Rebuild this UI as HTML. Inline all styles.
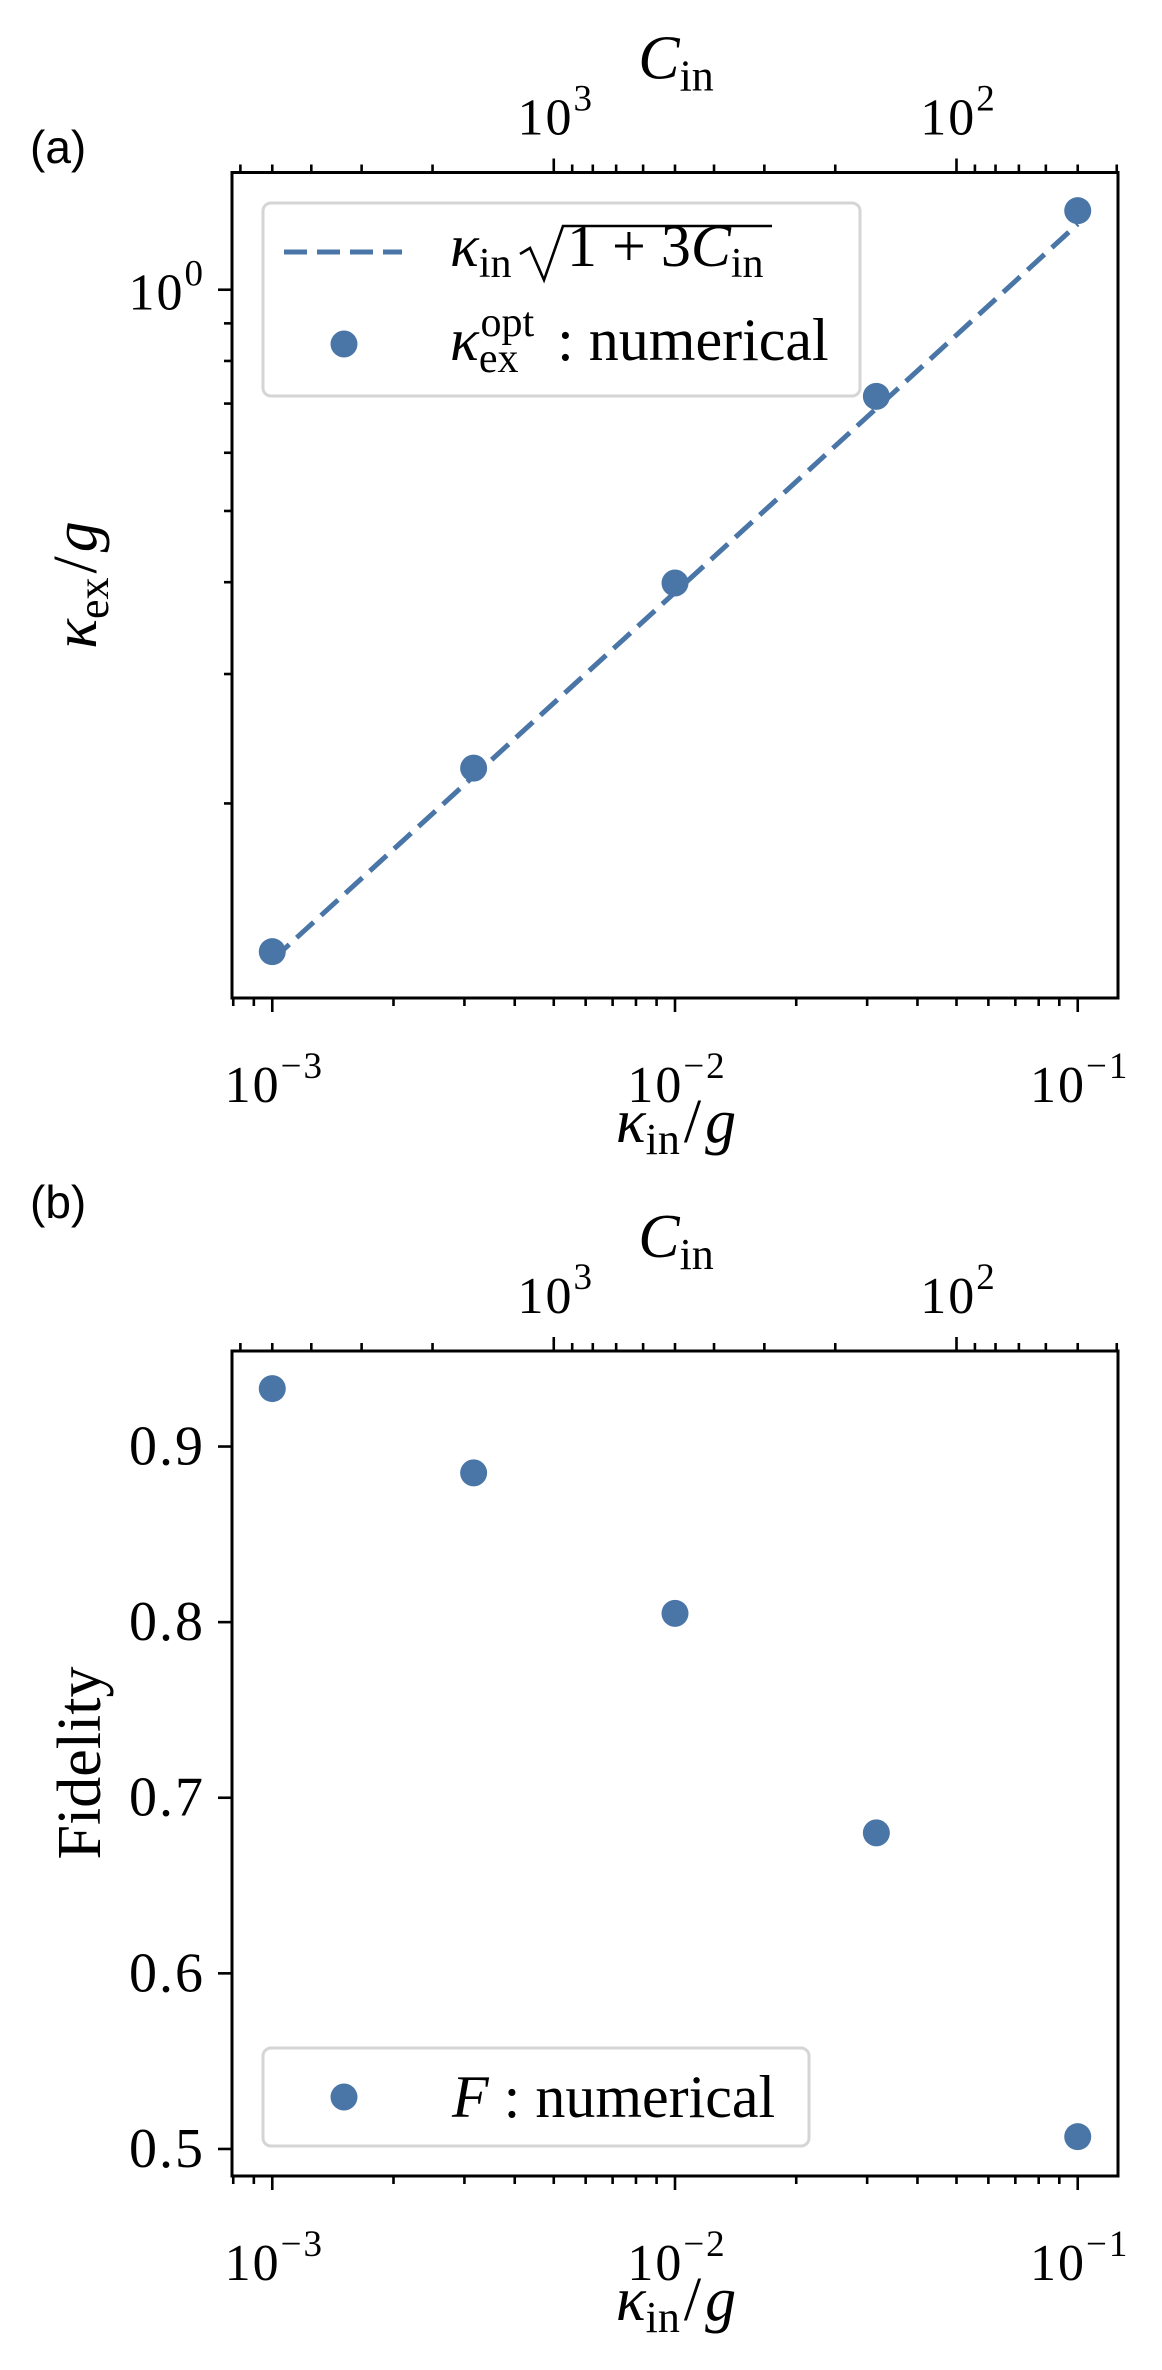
<!DOCTYPE html>
<html><head><meta charset="utf-8">
<style>
html,body{margin:0;padding:0;background:#fff;}
svg{display:block;}
text{font-family:"Liberation Serif",serif;fill:#000;}
.sans{font-family:"Liberation Sans",sans-serif;}
</style></head>
<body>
<svg id="fig" width="1162" height="2370" viewBox="0 0 1162 2370" xmlns="http://www.w3.org/2000/svg"></svg>
<script>
// ---- data ----
const kappaIn = [0.001, 0.0031623, 0.01, 0.031623, 0.1];
const kappaExNumerical = [0.1257, 0.2234, 0.399, 0.716, 1.281];
const kappaExTheory = [0.12248, 0.21782, 0.38743, 0.68945, 1.22882];
const fidelity = [0.933, 0.885, 0.805, 0.680, 0.507];
const fidelityTicks = [0.5, 0.6, 0.7, 0.8, 0.9];
const fidelityTickLabels = ["0.5", "0.6", "0.7", "0.8", "0.9"];
const xMajorExp = [-3, -2, -1];
const topMajorC = [1000, 100];
const topMajorLabels = ["3", "2"];
const cCoef = 5; // C_in = 5 / kappa_in

const NS = "http://www.w3.org/2000/svg";
const svg = document.getElementById("fig");
const COLOR = "#4a75a7";
function el(tag, attrs, parent) {
  const e = document.createElementNS(NS, tag);
  for (const k in attrs) e.setAttribute(k, attrs[k]);
  (parent || svg).appendChild(e);
  return e;
}
const L = 232, R = 1118;
const XMIN = -3.1, XMAX = -0.9;
function xs(v) { return L + (Math.log10(v) - XMIN) / (XMAX - XMIN) * (R - L); }
const TICKFS = 52, SUPFS = 37, TITLEFS = 62, SUBFS = 44;

function xAxes(g, T, B) {
  for (let e = -4; e <= -1; e++) {
    for (let m = 1; m <= 9; m++) {
      const v = m * Math.pow(10, e);
      const lv = Math.log10(v);
      if (lv < XMIN - 1e-9 || lv > XMAX + 1e-9) continue;
      const x = xs(v);
      const len = m === 1 ? 14 : 8;
      const t = el("line", {x1: x, x2: x, y1: B, y2: B + len, stroke: "#000", "stroke-width": 2.6}, g);
      
      
    }
  }
  xMajorExp.forEach(e => {
    const x = xs(Math.pow(10, e));
    const t = el("text", {x: x + 2, y: B + 104, "font-size": TICKFS, "text-anchor": "middle", "letter-spacing": 2}, g);
    
    
    t.innerHTML = '10<tspan dy="-24" font-size="' + SUPFS + '">\u2212' + (-e) + '</tspan>';
  });
  for (let e = 1; e <= 4; e++) {
    for (let m = 1; m <= 9; m++) {
      const c = m * Math.pow(10, e);
      const k = cCoef / c;
      const lv = Math.log10(k);
      if (lv < XMIN - 1e-9 || lv > XMAX + 1e-9) continue;
      const x = xs(k);
      const len = m === 1 ? 14 : 8;
      const t = el("line", {x1: x, x2: x, y1: T, y2: T - len, stroke: "#000", "stroke-width": 2.6}, g);
      
      
    }
  }
  topMajorC.forEach((c, i) => {
    const x = xs(cCoef / c);
    const t = el("text", {x: x + 2, y: T - 38, "font-size": TICKFS, "text-anchor": "middle", "letter-spacing": 2}, g);
    
    
    t.innerHTML = '10<tspan dy="-24" font-size="' + SUPFS + '">' + topMajorLabels[i] + '</tspan>';
  });
  const tl = el("text", {x: 676, y: T - 94, "font-size": TITLEFS, "text-anchor": "middle"}, g);
  
  
  tl.innerHTML = '<tspan font-style="italic">C</tspan><tspan dy="12" font-size="' + SUBFS + '">in</tspan>';
  const bl = el("text", {x: 676, y: B + 144, "font-size": TITLEFS, "text-anchor": "middle"}, g);
  
  
  bl.innerHTML = '<tspan font-style="italic">κ</tspan><tspan dy="12" font-size="' + SUBFS + '">in</tspan><tspan dy="-12" dx="4">/</tspan><tspan dx="4" font-style="italic">g</tspan>';
}
function frame(g, T, B) {
  const r = el("rect", {x: L, y: T, width: R - L, height: B - T, fill: "none", stroke: "#000", "stroke-width": 3}, g);
  
  
}

// ===== Panel (a) =====
const gA = el("g", {});


const TA = 172.5, BA = 998, YAMIN = -0.9637, YAMAX = 0.1595;
function ysA(v) { return BA - (Math.log10(v) - YAMIN) / (YAMAX - YAMIN) * (BA - TA); }
const labA = el("text", {x: 30, y: 163, "font-size": 46, class: "sans"}, gA);


labA.textContent = "(a)";
for (let e = -1; e <= 0; e++) {
  for (let m = 1; m <= 9; m++) {
    const v = m * Math.pow(10, e);
    const lv = Math.log10(v);
    if (lv < YAMIN || lv > YAMAX) continue;
    const y = ysA(v);
    const len = m === 1 ? 14 : 8;
    const t = el("line", {x1: L, x2: L - len, y1: y, y2: y, stroke: "#000", "stroke-width": 2.6}, gA);
    
    
  }
}
const y0 = el("text", {x: 205, y: ysA(1) + 20, "font-size": TICKFS, "text-anchor": "end", "letter-spacing": 2}, gA);


y0.innerHTML = '10<tspan dy="-24" font-size="' + SUPFS + '">0</tspan>';
const yTa = el("text", {x: 0, y: 0, "font-size": TITLEFS, "text-anchor": "middle", transform: "translate(96,585) rotate(-90)"}, gA);


yTa.innerHTML = '<tspan font-style="italic">κ</tspan><tspan dy="12" font-size="' + SUBFS + '">ex</tspan><tspan dy="-12" dx="4">/</tspan><tspan dx="4" font-style="italic">g</tspan>';
xAxes(gA, TA, BA);
const lineA = el("polyline", {points: kappaIn.map((k, i) => xs(k) + "," + ysA(kappaExTheory[i])).join(" "), fill: "none", stroke: COLOR, "stroke-width": 5, "stroke-dasharray": "23 10"}, gA);


kappaIn.forEach((k, i) => {
  const c = el("circle", {cx: xs(k), cy: ysA(kappaExNumerical[i]), r: 13.5, fill: COLOR}, gA);
  
  
});
frame(gA, TA, BA);
const legA = el("g", {}, gA);


el("rect", {x: 263, y: 203, width: 597, height: 193, rx: 8, fill: "#fff", "fill-opacity": 0.8, stroke: "#d5d5d5", "stroke-width": 3}, legA);
const lgLine = el("line", {x1: 284, x2: 402, y1: 252, y2: 252, stroke: COLOR, "stroke-width": 5, "stroke-dasharray": "23 10"}, legA);


const lt1a = el("text", {x: 450, y: 266, "font-size": 60}, legA);


lt1a.innerHTML = '<tspan font-style="italic">κ</tspan><tspan dy="11" font-size="42">in</tspan>';
const rad = el("path", {d: "M520 254 L530 248 L544 280 L563 226 L772 226", fill: "none", stroke: "#000", "stroke-width": 2.6}, legA);


const lt1b = el("text", {x: 567, y: 266, "font-size": 60}, legA);


lt1b.innerHTML = '1 + 3<tspan font-style="italic">C</tspan><tspan dy="11" font-size="42">in</tspan>';
const lgDot = el("circle", {cx: 344, cy: 344, r: 13.5, fill: COLOR}, legA);


const lt2 = el("text", {x: 450, y: 360, "font-size": 60}, legA);


lt2.innerHTML = '<tspan font-style="italic">κ</tspan><tspan dy="12" font-size="42">ex</tspan><tspan dx="-38" dy="-36" font-size="42">opt</tspan><tspan dx="8" dy="24"> : numerical</tspan>';

// ===== Panel (b) =====
const gB = el("g", {});


const TB = 1351, BB = 2176, YBMIN = 0.4846, YBMAX = 0.9544;
function ysB(v) { return BB - (v - YBMIN) / (YBMAX - YBMIN) * (BB - TB); }
const labB = el("text", {x: 30, y: 1218, "font-size": 46, class: "sans"}, gB);


labB.textContent = "(b)";
fidelityTicks.forEach((v, i) => {
  const y = ysB(v);
  const t = el("line", {x1: L, x2: L - 14, y1: y, y2: y, stroke: "#000", "stroke-width": 2.6}, gB);
  
  
  const tx = el("text", {x: 205, y: y + 18, "font-size": 56, "text-anchor": "end", "letter-spacing": 2}, gB);
  
  
  tx.textContent = fidelityTickLabels[i];
});
const yTb = el("text", {x: 0, y: 0, "font-size": TITLEFS, "text-anchor": "middle", transform: "translate(100,1763) rotate(-90)"}, gB);


yTb.textContent = "Fidelity";
xAxes(gB, TB, BB);
kappaIn.forEach((k, i) => {
  const c = el("circle", {cx: xs(k), cy: ysB(fidelity[i]), r: 13.5, fill: COLOR}, gB);
  
  
});
frame(gB, TB, BB);
const legB = el("g", {}, gB);


el("rect", {x: 263, y: 2048, width: 546, height: 98, rx: 8, fill: "#fff", "fill-opacity": 0.8, stroke: "#d5d5d5", "stroke-width": 3}, legB);
const lgDotB = el("circle", {cx: 344, cy: 2097, r: 13.5, fill: COLOR}, legB);


const ltB = el("text", {x: 452, y: 2117, "font-size": 60}, legB);


ltB.innerHTML = '<tspan font-style="italic">F</tspan> : numerical';
</script>
</body></html>
